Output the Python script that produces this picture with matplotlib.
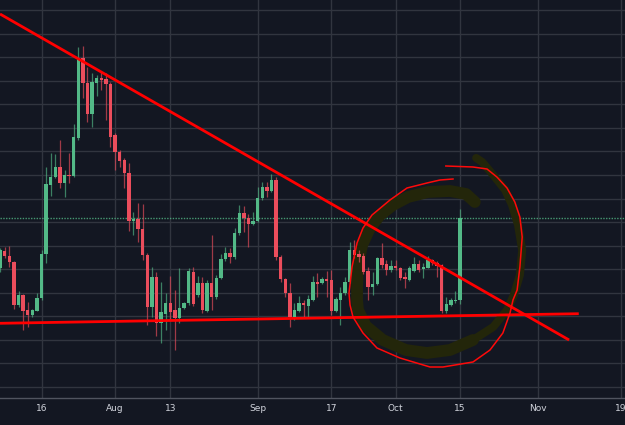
import numpy as np
import matplotlib
matplotlib.use("Agg")
import matplotlib.pyplot as plt
import matplotlib.dates as mdates
from datetime import datetime, timedelta

# daily candles, 2018-07-07 .. 2018-10-15 (price in chart units, axis was cropped off)
start_date = datetime(2018, 7, 7)

opens = [132, 149.3, 144.3, 138, 95, 105, 90, 85, 89.3, 101.7,
         145.7, 215, 222.7, 233.3, 217.3, 225, 224, 262.3, 341.7, 316.7,
         286, 317.3, 321.7, 320.7, 315.7, 265, 248.3, 240, 226.7, 179.3,
         181, 170.7, 145, 93.3, 123.3, 77.3, 86, 96.7, 90, 81.7,
         91.7, 96.7, 128.3, 105, 116.7, 89.3, 116.7, 102.7, 122.3, 140.7,
         146.7, 142.7, 166.7, 186.7, 181.7, 176, 179.3, 201.7, 212.7, 209.3,
         220, 142.7, 120.7, 107.3, 82.7, 89.3, 96.7, 94, 100, 118,
         117.3, 121, 120, 89.3, 100, 106.7, 118, 150, 146, 144,
         129, 112.7, 116, 142, 136, 130, 134, 132.3, 123.3, 120,
         129.3, 135.7, 130.7, 132.3, 140, 137.3, 135, 89.3, 95, 99,
         100]
highs = [152, 153.3, 154, 139, 109, 106, 98.3, 90.7, 107.3, 150,
         233.3, 246.7, 245.7, 260, 230, 246.7, 276, 353.3, 354, 333.3,
         326.7, 325, 328.3, 326.7, 318, 267, 250, 242, 236.7, 188.3,
         196.7, 196, 147, 133.3, 128.3, 118.3, 106.7, 124, 110, 131.7,
         98.3, 131.7, 133.3, 124, 123.3, 120, 165, 125, 146, 153.3,
         151.7, 171.7, 195, 194, 186, 188.3, 213.3, 218.3, 218.3, 226,
         222.7, 145, 122, 116.7, 96.7, 104, 100, 105, 124, 126.7,
         123.3, 129.3, 130, 103, 113.3, 123.3, 158.3, 160, 150, 147,
         133.3, 128.3, 143.3, 156.7, 140, 140, 140, 133, 128.3, 134,
         142.7, 140, 136.7, 144, 141, 139, 136, 103.3, 101.7, 109.3,
         190.7]
lows = [128, 142, 133.3, 91, 93, 70, 73.3, 82.7, 89, 100,
        137.3, 204, 222, 211.7, 203.3, 217.3, 223, 260, 301.7, 278.3,
        272.7, 304, 310, 280, 253.3, 230, 232.7, 211.7, 169.3, 165,
        158.3, 140, 75, 83.3, 64, 57.3, 70, 80, 50, 76.7,
        91, 95, 94, 103, 86.7, 88, 90, 101, 121, 139,
        136.7, 141, 165, 168.3, 153.3, 175, 178, 200, 203.3, 208,
        140, 118, 103.3, 73.3, 80, 88, 83.3, 83.3, 99, 103.3,
        116, 103.3, 85, 88, 75, 105, 117, 142, 138, 126,
        100, 105, 115, 132, 125, 128, 130, 120, 111.7, 119,
        128, 128, 122.3, 132, 135, 123.3, 86.7, 86.7, 94, 97.3,
        96]
closes = [150, 144.3, 137.7, 95, 105, 89.3, 85, 90, 101.7, 146,
          215.7, 223.3, 233.3, 217.3, 225, 224, 262.7, 341.7, 316.7, 286,
          317.7, 321.7, 320, 315.7, 263.3, 248.3, 239.3, 226.7, 179.3, 181,
          170.7, 145, 93.3, 123.3, 77.3, 88.3, 96.7, 88.3, 81.7, 91.7,
          96.7, 129.3, 96, 116.7, 90, 116.7, 102.7, 122.3, 140.7, 146.7,
          142.7, 166.7, 186.7, 181.7, 176, 179.3, 201.7, 212.7, 209, 220,
          142.7, 120.7, 106.7, 82.7, 90, 96.7, 95, 100.7, 117.7, 116,
          121, 119.3, 89.3, 100.7, 106.7, 118, 150, 145, 143.3, 128.3,
          113.3, 116, 142, 135, 130, 134, 131.7, 121.7, 120.7, 131.7,
          135.7, 130, 133.3, 140, 136.7, 134, 89.3, 95.7, 100, 100.3,
          182.3]

tick_dates = [datetime(2018, 7, 16), datetime(2018, 8, 1), datetime(2018, 8, 13),
              datetime(2018, 9, 1), datetime(2018, 9, 17), datetime(2018, 10, 1),
              datetime(2018, 10, 15), datetime(2018, 11, 1), datetime(2018, 11, 19)]
tick_labels = ["16", "Aug", "13", "Sep", "17", "Oct", "15", "Nov", "19"]

# drawings, anchored as (day offset from start, price)
resistance_line = [(-0.02, 386), (123.7, 60)]
support_line = [(-0.02, 76.7), (125.8, 86.3)]
circle_pen = [(98.46, 221), (95.63, 220), (92.8, 217), (88.46, 212), (84.76, 200),
              (80.85, 185), (78.89, 172), (77.59, 157), (76.5, 133), (75.85, 107),
              (76.07, 95), (76.72, 83), (78.89, 67), (81.93, 52), (86.93, 42),
              (93.46, 33), (96.28, 33), (102.8, 38), (106.5, 50), (109.3, 67),
              (110.85, 87), (111.5, 100), (112.4, 110), (113.0, 133), (113.5, 163),
              (113.0, 183), (111.9, 198), (110.2, 212), (108.0, 223), (105.85, 231),
              (102.8, 233), (96.9, 234)]
brush_stroke = [(103.2, 198), (101.3, 206), (97.8, 209), (93.0, 208), (88.7, 203),
                (85.4, 195), (82.6, 185), (80.4, 172), (78.7, 155), (77.8, 135),
                (77.6, 113), (77.6, 100), (77.8, 90), (79.5, 74), (83.2, 60),
                (88.2, 50), (92.8, 47), (97.8, 50), (102.8, 60), (107.2, 73),
                (110.2, 90), (111.7, 105), (113.0, 125), (113.5, 150), (112.6, 175),
                (111.3, 195), (109.8, 210), (107.2, 225), (104.8, 238), (103.5, 242)]

BG = "#131722"
GRID = "#31353f"
UP = "#53b987"
DOWN = "#eb4d5c"
BRUSH = "#23260a"


def to_num(offsets):
    return [mdates.date2num(start_date + timedelta(days=float(d))) for d in offsets]


fig = plt.figure(figsize=(6.25, 4.25), dpi=100, facecolor=BG)
ax = fig.add_axes([0, 27 / 425, 1, 398 / 425])
ax.set_facecolor(BG)

x = np.array(to_num(range(len(opens))))
o = np.array(opens)
h = np.array(highs)
l = np.array(lows)
c = np.array(closes)
up = c >= o
cols = np.where(up, UP, DOWN)

ax.vlines(x, l, h, colors=cols, linewidth=0.9, alpha=0.65, zorder=3)
body = np.maximum(np.abs(c - o), 0.9)
ax.bar(x, body, bottom=np.minimum(o, c), width=0.72, color=cols, linewidth=0, zorder=4)

# last price line
ax.axhline(closes[-1], color=UP, linestyle=(0, (1, 1)), linewidth=1, alpha=0.8, zorder=2)

# hand drawings
bx = to_num([p[0] for p in brush_stroke])
by = [p[1] for p in brush_stroke]
ax.plot(bx[:19], by[:19], color=BRUSH, linewidth=8.5, solid_capstyle="round",
        solid_joinstyle="round", zorder=2.5)
ax.plot(bx[18:], by[18:], color=BRUSH, linewidth=5.8, solid_capstyle="round",
        solid_joinstyle="round", zorder=2.5)

for line in (resistance_line, support_line):
    ax.plot(to_num([p[0] for p in line]), [p[1] for p in line], color="#ff0000",
            linewidth=2.0, solid_capstyle="butt", zorder=5)

ax.plot(to_num([p[0] for p in circle_pen]), [p[1] for p in circle_pen], color="#ff0a0a",
        linewidth=1.1, solid_joinstyle="round", zorder=6)

ax.set_xlim(to_num([-0.022, 135.85]))
ax.set_ylim(2, 400)
ax.set_yticks(83.7 + 23.545 * np.arange(-3, 14))
ax.set_yticklabels([])
ax.set_xticks(mdates.date2num(tick_dates))
ax.set_xticklabels(tick_labels, color="#d1d4dc", fontsize=6.5)
ax.tick_params(axis="x", length=0, pad=4)
ax.tick_params(axis="y", length=0)
ax.grid(True, color=GRID, linewidth=1, zorder=0)
ax.set_axisbelow(True)
for s in ("top", "left", "right"):
    ax.spines[s].set_visible(False)
ax.spines["bottom"].set_color("#50545f")
ax.spines["bottom"].set_linewidth(1)

fig.savefig("out.png", dpi=100, facecolor=BG)
